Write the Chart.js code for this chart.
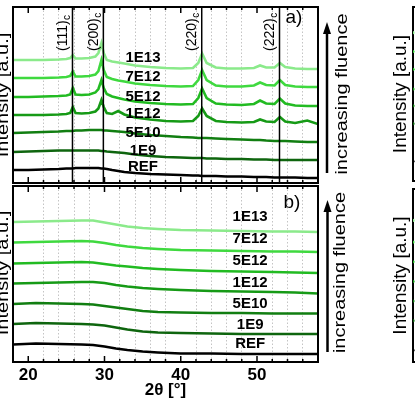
<!DOCTYPE html>
<html>
<head>
<meta charset="utf-8">
<script src="https://cdn.jsdelivr.net/npm/chart.js@4.4.1/dist/chart.umd.min.js"></script>
<style>
  html, body { margin: 0; padding: 0; background: #fff; }
  body { width: 415px; height: 399px; overflow: hidden; position: relative; }
  canvas { position: absolute; }
</style>
</head>
<body>
<canvas id="panelA" width="415" height="185" style="left:0;top:0"></canvas>
<canvas id="panelB" width="415" height="214" style="left:0;top:185px"></canvas>
<canvas id="sideA" width="50" height="185" style="left:380px;top:0"></canvas>
<canvas id="sideB" width="50" height="214" style="left:380px;top:185px"></canvas>
<script>
const FAMILY = '"Liberation Sans", Arial, sans-serif';
Chart.defaults.font.family = FAMILY;
Chart.defaults.color = '#000';

// 2θ sampling (°)
const twoThetaA = [18, 20, 22, 24, 25, 25.5, 25.85, 26.2, 27, 28, 28.8, 29.2, 29.6, 29.9, 30.3, 31, 31.8, 32.6, 34, 36, 38, 40, 41.6, 42.3, 42.8, 43.4, 44.6, 46, 48, 49.6, 50.4, 51.2, 52.3, 53.0, 53.7, 55, 56.6, 58];
const twoThetaB = [18, 21, 24, 27, 28.5, 30, 31.5, 33, 35, 37, 40, 44, 48, 52, 55, 58];
const xTicks = [20, 30, 40, 50];

const samples = ['REF', '1E9', '5E10', '1E12', '5E12', '7E12', '1E13'];

// reflections of the cubic phase
const hklPos = [25.8, 29.85, 42.75, 52.95];
const hklNames = ['(111)', '(200)', '(220)', '(222)'];

// a) intensity, stacked (a.u.)
const aREF  = [13, 13, 13.5, 14, 14.5, 14.5, 14.5, 15, 15, 15, 15, 15, 14.5, 14.5, 14, 13, 12, 11, 10, 9, 8.5, 8, 7.5, 7.5, 7, 7, 7, 6.5, 6.5, 6, 6, 6, 5.5, 5.5, 5.5, 5.5, 5, 5];
const a1E9  = [31, 31.5, 32, 32.5, 32.5, 32.5, 32.5, 32.5, 32.5, 32.5, 32.5, 32.5, 32, 32, 31.5, 31, 30.5, 30, 28.5, 27, 26, 25.5, 25, 25, 25, 24.5, 24.5, 24, 24, 23.5, 23.5, 23.5, 23, 23, 23, 23, 23, 23];
const a5E10 = [50, 50.5, 51, 51.5, 52, 52, 52, 52.5, 52.5, 53, 53, 53, 53, 52.5, 52.5, 52, 51.5, 51, 49.5, 48, 47, 46, 45.5, 45, 45, 45, 44.5, 44, 43.5, 43, 43, 42.5, 42, 42, 42, 41.5, 41, 41];
const a1E12 = [68, 68, 68, 68.5, 69, 70, 76, 70, 69.5, 70, 71.5, 74.5, 83, 76, 70, 69, 72, 68.5, 65.5, 63.5, 62, 61.5, 62, 67, 74.5, 67, 62, 61, 60.5, 61, 63.5, 61.5, 61, 66, 61.5, 60, 62.5, 59];
const a5E12 = [86, 86, 86.5, 87, 87.5, 88.5, 95, 88.5, 88, 88.5, 90.5, 94, 103, 95, 89, 86.5, 85, 83.5, 81.5, 80, 79, 78.5, 79, 85, 94.5, 85, 79.5, 78.5, 78, 79, 82.5, 79.5, 79, 84.5, 79.5, 77.5, 77, 77];
const a7E12 = [105, 105, 105, 105.5, 106, 107, 111.5, 106.5, 106.5, 107, 108.5, 112, 123, 113, 106, 104, 102.5, 101.5, 99.5, 98, 97, 96.5, 97, 103, 113, 103, 97.5, 96.5, 96.5, 97.5, 100.5, 98, 97.5, 103, 98, 96.5, 96, 96];
const a1E13 = [123, 123, 123, 123.5, 124, 125, 128, 124.5, 124.5, 125, 126.5, 130, 140, 130, 123, 121.5, 120.5, 119.5, 117.5, 116, 115, 114.5, 115, 120, 129.5, 120, 115.5, 114.5, 114.5, 115, 117.5, 115.5, 115.5, 120, 116, 114.5, 114, 114];

// b) intensity, stacked (a.u.)
const bREF  = [17.5, 18.5, 18, 17.5, 17, 15.5, 13.5, 12, 10.5, 9.5, 8.5, 8.5, 8, 8, 8, 8];
const b1E9  = [38, 39, 38.5, 38, 37.5, 36.5, 34.5, 32.5, 30.5, 29.5, 29, 28.5, 28, 28, 28, 28];
const b5E10 = [58, 59, 58.5, 58, 57.5, 56, 54.5, 53, 51, 50, 49.5, 49, 49, 48.5, 48.5, 48.5];
const b1E12 = [78.5, 79, 79.5, 80, 80, 79, 77, 75.5, 74, 73, 72, 71, 70.5, 70, 69.5, 68.5];
const b5E12 = [98.5, 99, 99.5, 100, 99.5, 98, 96.5, 95.5, 94, 93, 92, 91, 90.5, 90, 89.5, 89];
const b7E12 = [119.5, 120, 120.5, 121, 120.5, 119, 117, 115.5, 114, 113, 112, 111.5, 111, 110.5, 110.5, 110];
const b1E13 = [140, 140.5, 141, 141.5, 141.5, 139.5, 137.5, 135.5, 134, 133, 132, 131.5, 131, 130.5, 130.5, 130];

// start of the curves in the next (cut off) panels
const sideStartA = [20, 58, 76, 93, 113, 131, 150];
const sideStartB = [12, 42, 62, 82, 102, 122, 144];

const colors = ['#000000', '#0e650e', '#117e11', '#169a16', '#22bb22', '#3fd93f', '#8bea8b'];

function curves(xs, series) {
  return series.map((ys, i) => ({
    label: samples[i],
    xAxisID: 'x',
    data: xs.map((x, j) => ({ x: x, y: ys[j] })),
    borderColor: colors[i],
    borderWidth: 2.6,
    pointRadius: 0,
    tension: 0
  })).reverse();
}

function hklLines() {
  return hklPos.map(p => ({
    xAxisID: 'x',
    data: [{ x: p, y: 0 }, { x: p, y: 176 }],
    borderColor: '#000',
    borderWidth: 1.5,
    pointRadius: 0
  }));
}

function rotText(ctx, text, x, y, font, stretch) {
  ctx.save();
  ctx.translate(x, y);
  ctx.rotate(-Math.PI / 2);
  ctx.scale(stretch, 1);
  ctx.font = font;
  ctx.textAlign = 'center';
  ctx.textBaseline = 'alphabetic';
  ctx.fillText(text, 0, 0);
  ctx.restore();
}

function drawFrame(chart) {
  const { ctx, chartArea: a } = chart;
  ctx.save();
  ctx.strokeStyle = '#000';
  ctx.lineWidth = 2;
  ctx.strokeRect(a.left, a.top, a.right - a.left, a.bottom - a.top);
  ctx.restore();
}

const decor = {
  id: 'decor',
  beforeDatasetsDraw(chart, args, o) {
    if (!o.frameOnTop) drawFrame(chart);
  },
  afterDraw(chart, args, o) {
    if (!o.frameOnTop) return;
    const { ctx, chartArea: a } = chart;
    const x = chart.scales.x, y = chart.scales.y;
    drawFrame(chart);
    ctx.save();
    ctx.strokeStyle = '#000';
    ctx.fillStyle = '#000';

    // inward ticks on top and bottom
    ctx.lineWidth = 1.5;
    x.ticks.forEach(t => {
      if (t.value <= x.min || t.value >= x.max) return;
      const px = x.getPixelForValue(t.value);
      const len = t.value % 10 === 0 ? 6 : 3;
      ctx.beginPath();
      ctx.moveTo(px, a.top); ctx.lineTo(px, a.top + len);
      ctx.moveTo(px, a.bottom); ctx.lineTo(px, a.bottom - len);
      ctx.stroke();
    });

    // reflection labels
    if (o.hkl) {
      hklPos.forEach((p, i) => {
        const px = x.getPixelForValue(p);
        ctx.save();
        ctx.translate(px - 5.5, a.top + 44);
        ctx.rotate(-Math.PI / 2);
        ctx.font = '14px ' + FAMILY;
        ctx.textAlign = 'left';
        ctx.textBaseline = 'alphabetic';
        ctx.fillText(hklNames[i], 0, 0);
        const w = ctx.measureText(hklNames[i]).width;
        ctx.font = '10px ' + FAMILY;
        ctx.fillText('c', w + 0.5, 3);
        ctx.restore();
      });
    }

    // sample names
    ctx.font = 'bold 15px ' + FAMILY;
    ctx.textAlign = 'center';
    ctx.textBaseline = 'middle';
    samples.forEach((s, i) => {
      ctx.fillText(s, x.getPixelForValue(o.labelX), y.getPixelForValue(o.labelY[i]));
    });

    // panel tag
    ctx.font = '19px ' + FAMILY;
    ctx.fillText(o.tag, o.tagX, o.tagY);

    // arrow + text
    ctx.lineWidth = 2.5;
    ctx.beginPath();
    ctx.moveTo(o.arrowX, o.arrowBottom);
    ctx.lineTo(o.arrowX, o.arrowTop + 10);
    ctx.stroke();
    ctx.beginPath();
    ctx.moveTo(o.arrowX, o.arrowTop);
    ctx.lineTo(o.arrowX - 4, o.arrowTop + 12);
    ctx.lineTo(o.arrowX + 4, o.arrowTop + 12);
    ctx.closePath();
    ctx.fill();
    rotText(ctx, 'increasing fluence', o.fluenceX, o.fluenceY, '16px ' + FAMILY, 1.25);

    // y title, partly cut by the left edge
    rotText(ctx, 'Intensity [a.u.]', o.yTitleX, o.yTitleY, '16px ' + FAMILY, 1.25);
    ctx.restore();
  }
};

function scales(showLabels) {
  return {
    x: {
      type: 'linear', min: 18, max: 58,
      ticks: {
        stepSize: 2, autoSkip: false, maxRotation: 0, display: showLabels, padding: 3,
        font: { size: 17, weight: 'bold' },
        callback: v => (xTicks.includes(v) ? v : '')
      },
      grid: {
        drawTicks: false, lineWidth: 1,
        color: c => (c.tick && c.tick.value % 10 !== 0 && c.tick.value > 18 && c.tick.value < 58) ? '#c4c4c4' : 'rgba(0,0,0,0)'
      },
      border: { display: false, dash: [1.5, 2] },
      title: {
        display: showLabels, text: '2θ [°]', padding: { top: 0, bottom: 0 },
        font: { size: 17, weight: 'bold', lineHeight: 1 }
      },
      afterFit: s => { s.height = showLabels ? 37 : 0; }
    },
    xMajor: {
      type: 'linear', position: 'bottom', min: 18, max: 58,
      ticks: { stepSize: 10, display: false },
      grid: {
        drawTicks: false, lineWidth: 1.2,
        color: c => (c.tick && c.tick.value % 10 === 0) ? '#8c8c8c' : 'rgba(0,0,0,0)'
      },
      border: { display: false, dash: [5, 4] },
      afterFit: s => { s.height = 0; }
    },
    y: { type: 'linear', min: 0, max: 176, display: false }
  };
}

new Chart(document.getElementById('panelA'), {
  type: 'line',
  data: { datasets: hklLines().concat(curves(twoThetaA, [aREF, a1E9, a5E10, a1E12, a5E12, a7E12, a1E13])) },
  options: {
    responsive: false, animation: false,
    layout: { padding: { left: 13, right: 97, top: 7, bottom: 2 } },
    plugins: {
      legend: { display: false }, tooltip: { enabled: false },
      decor: {
        frameOnTop: true, hkl: true,
        labelX: 35.05, labelY: [16, 32, 50, 69, 86, 106, 125],
        tag: 'a)', tagX: 294, tagY: 18,
        arrowX: 327, arrowBottom: 173, arrowTop: 22,
        fluenceX: 346.5, fluenceY: 94,
        yTitleX: 8, yTitleY: 95
      }
    },
    scales: scales(false)
  },
  plugins: [decor]
});

new Chart(document.getElementById('panelB'), {
  type: 'line',
  data: { datasets: curves(twoThetaB, [bREF, b1E9, b5E10, b1E12, b5E12, b7E12, b1E13]) },
  options: {
    responsive: false, animation: false,
    layout: { padding: { left: 13, right: 97, top: 1, bottom: 0 } },
    plugins: {
      legend: { display: false }, tooltip: { enabled: false },
      decor: {
        frameOnTop: true, hkl: false,
        labelX: 49.1, labelY: [18, 37, 58, 79, 101, 123, 145],
        tag: 'b)', tagX: 292, tagY: 18,
        arrowX: 327.5, arrowBottom: 167, arrowTop: 15,
        fluenceX: 345, fluenceY: 87.5,
        yTitleX: 8, yTitleY: 88
      }
    },
    scales: scales(true)
  },
  plugins: [decor]
});

function sideChart(id, starts, padTop, padBottom) {
  new Chart(document.getElementById(id), {
    type: 'line',
    data: {
      datasets: starts.map((v, i) => ({
        data: [{ x: 18, y: v }],
        borderColor: colors[i], backgroundColor: colors[i],
        pointRadius: 1.6, pointBorderWidth: 0, showLine: false
      }))
    },
    options: {
      responsive: false, animation: false,
      layout: { padding: { left: 0, right: 0, top: padTop, bottom: padBottom } },
      plugins: { legend: { display: false }, tooltip: { enabled: false }, decor: { frameOnTop: false } },
      scales: {
        x: { type: 'linear', min: 18, max: 58, display: false },
        y: {
          type: 'linear', min: 0, max: 176,
          ticks: { display: false },
          grid: { display: false, drawTicks: false },
          border: { display: false },
          title: { display: true, text: 'Intensity [a.u.]', font: { size: 19 }, padding: { top: 9, bottom: 0 } },
          afterFit: s => { s.width = 33; }
        }
      }
    },
    plugins: [decor]
  });
}
sideChart('sideA', sideStartA, 7, 2);
sideChart('sideB', sideStartB, 1, 37);
</script>
</body>
</html>
